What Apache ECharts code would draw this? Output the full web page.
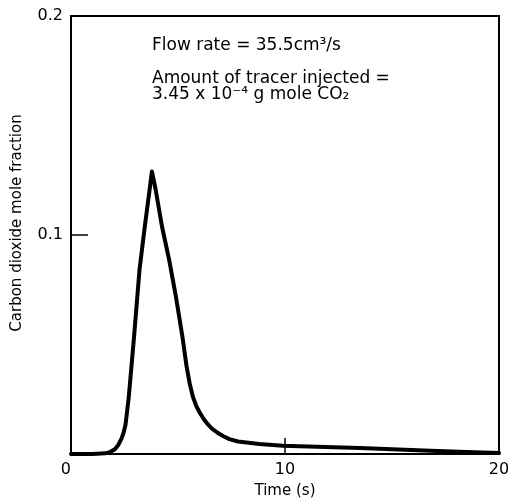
<!DOCTYPE html>
<html><head><meta charset="utf-8">
<script src="https://cdn.jsdelivr.net/npm/echarts@6/dist/echarts.min.js"></script>
<style>html,body{margin:0;padding:0;background:#fff}#c{width:510px;height:501px}</style>
</head><body><div id="c"></div>
<script>
const timeS = [0, 1.0, 1.6, 1.85, 2.05, 2.2, 2.35, 2.45, 2.55, 2.7, 2.95, 3.2, 3.45, 3.65, 3.78, 3.95, 4.25, 4.6, 4.9, 5.2, 5.4, 5.55, 5.7, 5.85, 6.0, 6.2, 6.4, 6.6, 6.85, 7.1, 7.4, 7.8, 8.8, 9.9, 11.5, 13.5, 15.0, 16.8, 18.5, 20];
const co2Fraction = [0, 0, 0.0003, 0.001, 0.0022, 0.004, 0.0068, 0.0095, 0.0135, 0.026, 0.054, 0.084, 0.104, 0.119, 0.129, 0.121, 0.104, 0.088, 0.072, 0.054, 0.040, 0.032, 0.026, 0.022, 0.0192, 0.016, 0.0135, 0.0115, 0.0097, 0.0082, 0.0068, 0.0057, 0.0046, 0.0038, 0.0033, 0.0027, 0.0022, 0.0015, 0.0009, 0.0005];
const xTicks = [0, 10, 20];
const yTicks = [0.1, 0.2];
const annotations = ["Flow rate = 35.5cm³/s", "Amount of tracer injected =", "3.45 x 10⁻⁴ g mole CO₂"];

const font = "DejaVu Sans";
const chart = echarts.init(document.getElementById('c'));
chart.setOption({
  animation: false,
  grid: {left: 71, right: 11, top: 16, bottom: 47, show: true, borderColor: '#000', borderWidth: 2,
    containLabel: false, outerBoundsMode: 'none'},
  xAxis: {
    type: 'value', min: 0, max: 20, interval: 10,
    name: 'Time (s)', nameLocation: 'middle', nameGap: 30,
    nameTextStyle: {fontFamily: font, fontSize: 15, color: '#000'},
    axisLine: {show: true, lineStyle: {color: '#000', width: 2}},
    axisTick: {show: true, inside: true, length: 16, lineStyle: {color: '#000', width: 1.5}},
    axisLabel: {fontFamily: font, fontSize: 16, color: '#000', margin: 8, alignMinLabel: 'right',
      formatter: v => xTicks.includes(v) ? String(v) : ''},
    splitLine: {show: false}
  },
  yAxis: {
    type: 'value', min: 0, max: 0.2, interval: 0.1,
    name: 'Carbon dioxide mole fraction', nameLocation: 'middle', nameGap: 46, nameRotate: 90,
    nameTextStyle: {fontFamily: font, fontSize: 15, color: '#000', padding: [0, 0, 0, 24]},
    axisLine: {show: true, lineStyle: {color: '#000', width: 2}},
    axisTick: {show: true, inside: true, length: 17, lineStyle: {color: '#000', width: 1.5}},
    axisLabel: {fontFamily: font, fontSize: 16, color: '#000', margin: 8,
      formatter: v => yTicks.some(t => Math.abs(t - v) < 1e-9) ? v.toFixed(1) : ''},
    splitLine: {show: false}
  },
  graphic: [
    {type: 'text', left: 152, top: 37, style: {text: annotations[0], font: '17px "DejaVu Sans"', fill: '#000'}},
    {type: 'text', left: 152, top: 70, style: {text: annotations[1], font: '17px "DejaVu Sans"', fill: '#000'}},
    {type: 'text', left: 152, top: 86, style: {text: annotations[2], font: '17px "DejaVu Sans"', fill: '#000'}}
  ],
  series: [{
    type: 'line', data: timeS.map((t, i) => [t, co2Fraction[i]]),
    smooth: false, showSymbol: false,
    lineStyle: {color: '#000', width: 4, join: 'round', cap: 'round'}
  }]
});
</script></body></html>
